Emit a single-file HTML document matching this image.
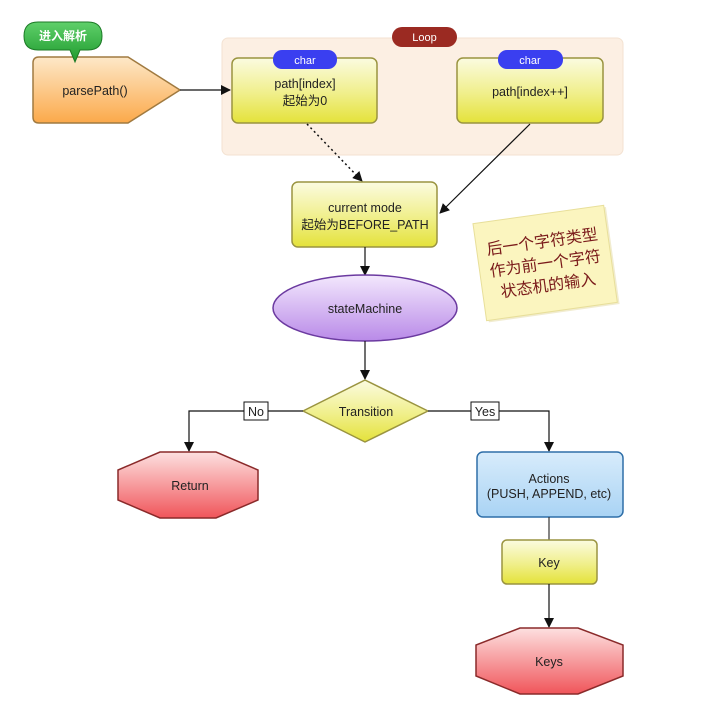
<!DOCTYPE html>
<html><head><meta charset="utf-8"><style>
body{margin:0;background:#fff}
svg{display:block}
text{font-family:"Liberation Sans","Noto Sans CJK SC",sans-serif;font-size:12.5px;fill:#222;text-anchor:middle}
</style></head><body>
<svg width="720" height="715" viewBox="0 0 720 715">
<defs>
<linearGradient id="yel" x1="0" y1="0" x2="0" y2="1"><stop offset="0" stop-color="#fbfbe0"/><stop offset="0.55" stop-color="#f0ef8a"/><stop offset="1" stop-color="#e4e23a"/></linearGradient>
<linearGradient id="org" x1="0" y1="0" x2="0" y2="1"><stop offset="0" stop-color="#fde8c8"/><stop offset="1" stop-color="#fba94a"/></linearGradient>
<linearGradient id="red" x1="0" y1="0" x2="0" y2="1"><stop offset="0" stop-color="#fde0e0"/><stop offset="1" stop-color="#f0555a"/></linearGradient>
<linearGradient id="blu" x1="0" y1="0" x2="0" y2="1"><stop offset="0" stop-color="#d8ecfb"/><stop offset="1" stop-color="#a9d3f4"/></linearGradient>
<linearGradient id="pur" x1="0" y1="0" x2="0" y2="1"><stop offset="0" stop-color="#f3e8fd"/><stop offset="1" stop-color="#b98ae8"/></linearGradient>
<linearGradient id="grn" x1="0" y1="0" x2="0" y2="1"><stop offset="0" stop-color="#5fd06a"/><stop offset="1" stop-color="#1f9a2e"/></linearGradient>
<marker id="ar" markerWidth="10" markerHeight="10" refX="9" refY="5" orient="auto" markerUnits="userSpaceOnUse"><path d="M0,0 L10,5 L0,10 z" fill="#111"/></marker>
</defs>

<rect x="222" y="38" width="401" height="117" rx="6" fill="#fcefe3" stroke="#f3e2d2"/>
<rect x="392" y="27" width="65" height="20" rx="10" fill="#9b2a22"/>
<text x="424.5" y="41" style="fill:#fff;font-size:11px">Loop</text>

<path d="M39,57 L128,57 L180,90 L128,123 L39,123 Q33,123 33,117 L33,63 Q33,57 39,57 z" fill="url(#org)" stroke="#a07a40" stroke-width="1.5"/>
<text x="95" y="95">parsePath()</text>
<path d="M24,36 Q24,22 38,22 L88,22 Q102,22 102,36 Q102,50 88,50 L80,50 L75,62 L70,50 L38,50 Q24,50 24,36 z" fill="url(#grn)" stroke="#1c7a26"/>
<text x="63" y="40" style="fill:#fff;font-size:12px;font-weight:bold">进入解析</text>
<line x1="180" y1="90" x2="230" y2="90" stroke="#111" stroke-width="1.2" marker-end="url(#ar)"/>

<rect x="232" y="58" width="145" height="65" rx="6" fill="url(#yel)" stroke="#9a9440" stroke-width="1.5"/>
<rect x="273" y="50" width="64" height="19" rx="9" fill="#3a3ff0"/>
<text x="305" y="64" style="fill:#fff;font-size:11px">char</text>
<text x="305" y="88">path[index]</text>
<text x="305" y="105">起始为0</text>

<rect x="457" y="58" width="146" height="65" rx="6" fill="url(#yel)" stroke="#9a9440" stroke-width="1.5"/>
<rect x="498" y="50" width="65" height="19" rx="9" fill="#3a3ff0"/>
<text x="530" y="64" style="fill:#fff;font-size:11px">char</text>
<text x="530" y="96">path[index++]</text>

<line x1="307" y1="124" x2="362" y2="181" stroke="#111" stroke-width="1.5" stroke-dasharray="2,3" marker-end="url(#ar)"/>
<line x1="530" y1="124" x2="440" y2="213" stroke="#111" stroke-width="1.2" marker-end="url(#ar)"/>

<rect x="292" y="182" width="145" height="65" rx="6" fill="url(#yel)" stroke="#9a9440" stroke-width="1.5"/>
<text x="365" y="212">current mode</text>
<text x="365" y="229">起始为BEFORE_PATH</text>

<g transform="rotate(-8 545 262)">
<rect x="481" y="216" width="132" height="98" fill="#e8e0b0" opacity="0.6"/>
<rect x="479" y="214" width="132" height="98" fill="#fbf5bf" stroke="#e8df9a"/>
<text x="545" y="247" style="fill:#7a1a1a;font-size:16px">后一个字符类型</text>
<text x="545" y="269" style="fill:#7a1a1a;font-size:16px">作为前一个字符</text>
<text x="545" y="291" style="fill:#7a1a1a;font-size:16px">状态机的输入</text>
</g>

<line x1="365" y1="247" x2="365" y2="275" stroke="#111" stroke-width="1.2" marker-end="url(#ar)"/>
<ellipse cx="365" cy="308" rx="92" ry="33" fill="url(#pur)" stroke="#6b3aa0" stroke-width="1.5"/>
<text x="365" y="313">stateMachine</text>
<line x1="365" y1="341" x2="365" y2="379" stroke="#111" stroke-width="1.2" marker-end="url(#ar)"/>

<path d="M365,380 L428,411 L365,442 L303,411 z" fill="url(#yel)" stroke="#9a9440" stroke-width="1.5" stroke-linejoin="round"/>
<text x="366" y="416">Transition</text>

<polyline points="303,411 189,411 189,451" fill="none" stroke="#111" stroke-width="1.2" marker-end="url(#ar)"/>
<rect x="244" y="402" width="24" height="18" fill="#fff" stroke="#111"/>
<text x="256" y="416">No</text>
<polyline points="428,411 549,411 549,451" fill="none" stroke="#111" stroke-width="1.2" marker-end="url(#ar)"/>
<rect x="471" y="402" width="28" height="18" fill="#fff" stroke="#111"/>
<text x="485" y="416">Yes</text>

<path d="M160,452 L216,452 L258,470 L258,500 L216,518 L160,518 L118,500 L118,470 z" fill="url(#red)" stroke="#8a2a2a" stroke-width="1.5"/>
<text x="190" y="490">Return</text>

<rect x="477" y="452" width="146" height="65" rx="6" fill="url(#blu)" stroke="#2f6fa8" stroke-width="1.5"/>
<text x="549" y="483">Actions</text>
<text x="549" y="498">(PUSH, APPEND, etc)</text>

<line x1="549" y1="517" x2="549" y2="540" stroke="#333" stroke-width="1.2"/>
<rect x="502" y="540" width="95" height="44" rx="5" fill="url(#yel)" stroke="#9a9440" stroke-width="1.5"/>
<text x="549" y="567">Key</text>
<line x1="549" y1="584" x2="549" y2="627" stroke="#111" stroke-width="1.2" marker-end="url(#ar)"/>

<path d="M520,628 L578,628 L623,645 L623,676 L578,694 L520,694 L476,676 L476,645 z" fill="url(#red)" stroke="#8a2a2a" stroke-width="1.5"/>
<text x="549" y="666">Keys</text>
</svg>
</body></html>
